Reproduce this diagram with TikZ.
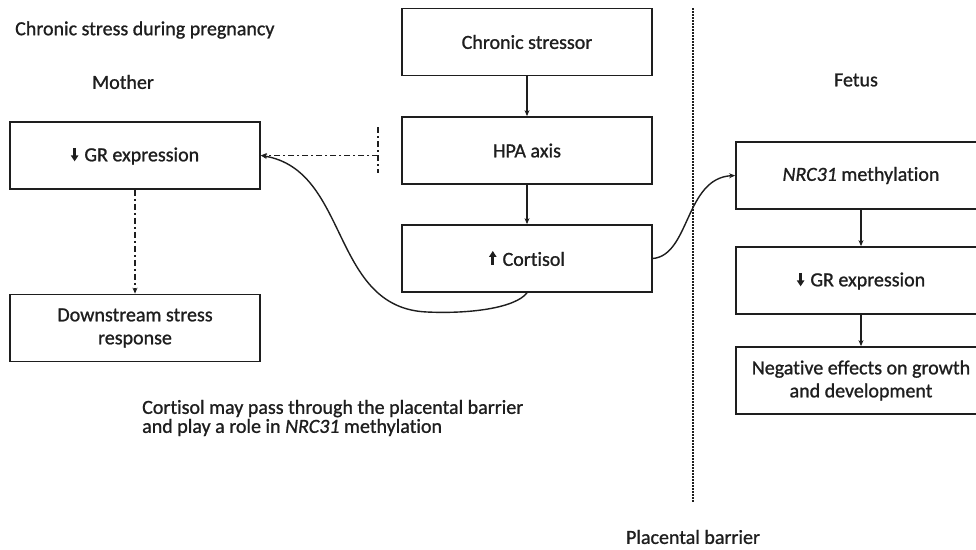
\documentclass[tikz,border=0pt]{standalone}
\usepackage{fontspec}
\setmainfont{Carlito}[Ligatures=NoCommon, UprightFeatures={FakeBold=1.0}, ItalicFeatures={FakeBold=1.0}]
\usetikzlibrary{arrows.meta}
\definecolor{ink}{HTML}{1E1E1E}
\newsavebox\dnbox
\newsavebox\upbox
\tikzset{
  box/.style={draw=ink, line width=1.8pt, minimum width=250pt, minimum height=67pt,
    align=center, text=ink, font=\fontsize{20}{23}\selectfont, inner sep=0pt},
  lbl/.style={text=ink, font=\fontsize{20}{19}\selectfont, inner sep=0pt},
  arr/.style={-{Stealth[length=6pt,width=5pt]}},
  conn/.style={draw=ink, line width=1.4pt},
  dd/.style={draw=ink, line width=1.4pt, dash pattern=on 6pt off 3pt on 2pt off 3pt},
  barrier/.style={draw=ink, line width=1.6pt, dash pattern=on 1.5pt off 1.5pt}
}
\begin{document}
\sbox\dnbox{\begin{pgfpicture}%
 \pgfsetcolor{ink}\pgfsetlinewidth{2.6pt}%
 \pgfpathmoveto{\pgfpoint{0pt}{13.5pt}}\pgfpathlineto{\pgfpoint{0pt}{4.5pt}}\pgfusepath{stroke}%
 \pgfpathmoveto{\pgfpoint{-3.8pt}{5.8pt}}\pgfpathlineto{\pgfpoint{3.8pt}{5.8pt}}\pgfpathlineto{\pgfpoint{0pt}{0pt}}\pgfpathclose\pgfusepath{fill}%
\end{pgfpicture}}%
\sbox\upbox{\begin{pgfpicture}%
 \pgfsetcolor{ink}\pgfsetlinewidth{2.6pt}%
 \pgfpathmoveto{\pgfpoint{0pt}{0pt}}\pgfpathlineto{\pgfpoint{0pt}{9pt}}\pgfusepath{stroke}%
 \pgfpathmoveto{\pgfpoint{-3.8pt}{7.7pt}}\pgfpathlineto{\pgfpoint{3.8pt}{7.7pt}}\pgfpathlineto{\pgfpoint{0pt}{13.5pt}}\pgfpathclose\pgfusepath{fill}%
\end{pgfpicture}}%
\begin{tikzpicture}[x=1pt, y=-1pt]
\useasboundingbox (0,0) rectangle (976,549);
\clip (0,0) rectangle (976,549);
\fill[white] (0,0) rectangle (976,549);

% boxes
\node[box] (cs)   at (527,42)    {Chronic stressor};
\node[box] (hpa)  at (527,150.5) {HPA axis};
\node[box] (cort) at (527,258.5) {\usebox\upbox\hspace{6pt}Cortisol};
\node[box] (grm)  at (135,155.5) {\usebox\dnbox\hspace{6pt}GR expression};
\node[box] (ds)   at (135,328)   {Downstream stress\\response};
\node[box] (nrc)  at (861,175.5) {\textit{NRC31} methylation};
\node[box] (grf)  at (861,280.5) {\usebox\dnbox\hspace{6pt}GR expression};
\node[box] (neg)  at (861,380.5) {Negative effects on growth\\and development};

% labels
\node[lbl, anchor=west] (title) at (15,30) {Chronic stress during pregnancy};
\node[lbl] (mother) at (123,82) {Mother};
\node[lbl] (fetus) at (856,80) {Fetus};
\node[lbl, anchor=west, align=left] (cap) at (142,418)
  {Cortisol may pass through the placental barrier\\and play a role in \textit{NRC31} methylation};
\node[lbl] (pb) at (693,537) {Placental barrier};

% placental barrier line
\coordinate (bt) at (693,8);
\coordinate (bb) at (693,502);
\draw[barrier] (bt) -- (bb);

% straight arrows
\draw[conn, arr] (cs) -- (hpa);
\draw[conn, arr] (hpa) -- (cort);
\draw[conn, arr] (nrc) -- (grf);
\draw[conn, arr] (grf) -- (neg);
\draw[dd, arr] (grm) -- (ds);

% inhibition (dash-dot) from HPA side to maternal GR
\coordinate (blk) at (378,155.5);
\coordinate (blkt) at (378,127);
\coordinate (blkb) at (378,173);
\draw[dd] (blkt) -- (blkb);
\draw[dd, arr] (blk) -- (grm.east);

% cortisol to maternal GR (curve)
\coordinate (bot) at (427,312);
\draw[conn, arr] (cort.south) .. controls (515,308) and (470,314) .. (bot)
  .. controls (330,308) and (350,170) .. (grm.east);

% cortisol to fetal NRC31 methylation
\draw[conn, arr] (cort.east) .. controls (690,255) and (685,178) .. (nrc.west);
\end{tikzpicture}
\end{document}
